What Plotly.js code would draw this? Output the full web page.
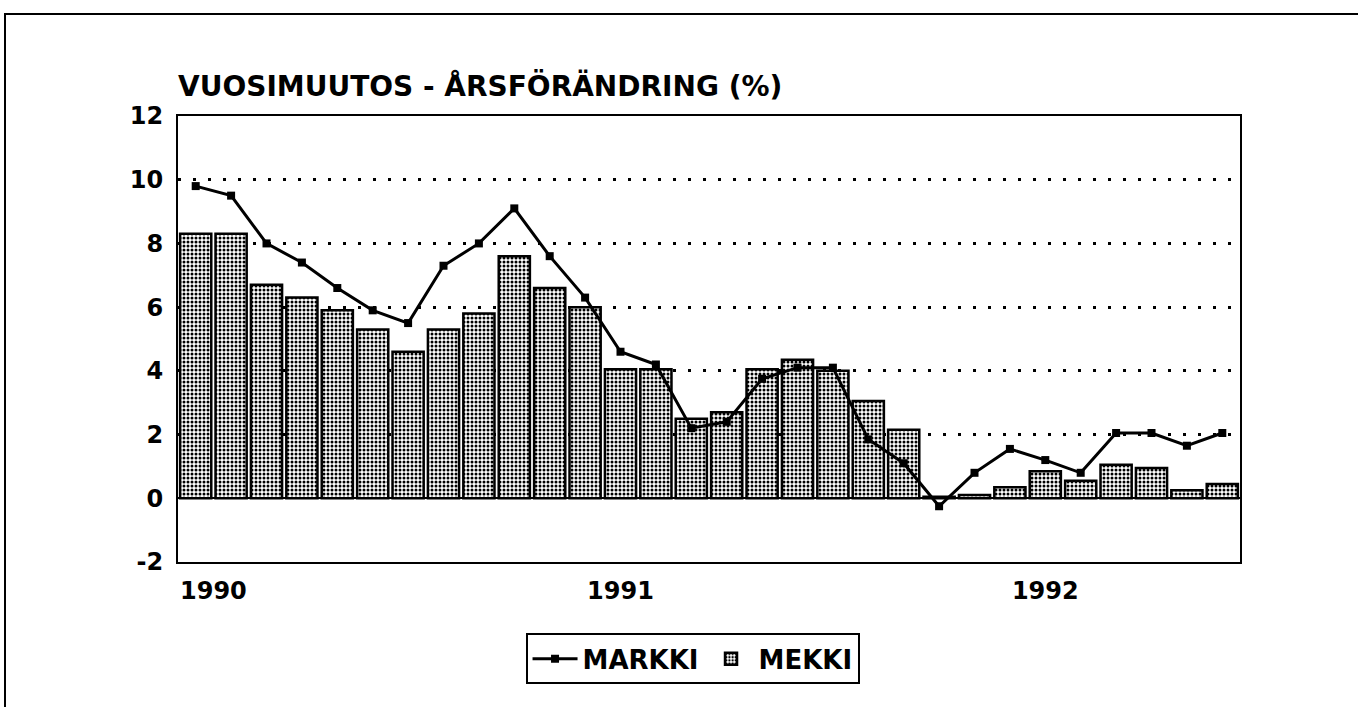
<!DOCTYPE html>
<html>
<head>
<meta charset="utf-8">
<script src="https://cdn.plot.ly/plotly-3.0.1.min.js"></script>
<style>
  html, body { margin: 0; padding: 0; background: #fff; }
  #frame { position: absolute; left: 4px; top: 13px; width: 1400px; height: 760px;
           border-left: 2px solid #000; border-top: 2px solid #000; }
  #chart { position: absolute; left: 0; top: 0; width: 1358px; height: 707px; }
</style>
</head>
<body>
<div id="frame"></div>
<div id="chart"></div>
<script>
// Months Jan 1990 .. Jun 1992 (index 0..29)
const months = Array.from({length: 30}, (_, i) => i);
const MARKKI = [9.8, 9.5, 8.0, 7.4, 6.6, 5.9, 5.5, 7.3, 8.0, 9.1, 7.6, 6.3,
                4.6, 4.2, 2.2, 2.4, 3.75, 4.1, 4.1, 1.85, 1.1, -0.25, 0.8, 1.55,
                1.2, 0.8, 2.05, 2.05, 1.65, 2.05];
const MEKKI = [8.3, 8.3, 6.7, 6.3, 5.9, 5.3, 4.6, 5.3, 5.8, 7.6, 6.6, 6.0,
               4.05, 4.05, 2.5, 2.7, 4.05, 4.35, 4.0, 3.05, 2.15, 0.05, 0.1, 0.35,
               0.85, 0.55, 1.05, 0.95, 0.25, 0.45];
const yearLabels = ['1990', '1991', '1992'];
const yearTickPos = [0.5, 12, 24];
const yTicks = [-2, 0, 2, 4, 6, 8, 10, 12];
const yTickLabels = ['-2', '0', '2', '4', '6', '8', '10', '12'];

const font = 'DejaVu Sans, Liberation Sans, Arial, sans-serif';

const traces = [
  {
    type: 'scatter', mode: 'lines+markers', name: 'MARKKI',
    x: months, y: MARKKI,
    line: {color: '#000', width: 3},
    marker: {symbol: 'square', size: 8, color: '#000'}
  },
  {
    type: 'bar', name: 'MEKKI',
    x: months, y: MEKKI,
    marker: {
      color: '#fff',
      line: {color: '#000', width: 2.5},
      pattern: {shape: '.', fgcolor: '#000', bgcolor: '#fff', size: 4, solidity: 0.45}
    }
  }
];

const layout = {
  width: 1358, height: 707,
  paper_bgcolor: 'rgba(0,0,0,0)', plot_bgcolor: '#fff',
  margin: {l: 178, r: 118, t: 116, b: 145},
  font: {family: font, color: '#000', size: 24, weight: 'bold'},
  showlegend: true,
  bargap: 0.12,
  title: {
    text: 'VUOSIMUUTOS - ÅRSFÖRÄNDRING (%)',
    font: {family: font, size: 28, weight: 'bold', color: '#000'},
    x: 0, xref: 'paper', xanchor: 'left',
    y: 1 - 86 / 707, yref: 'container', yanchor: 'middle'
  },
  xaxis: {
    range: [-0.5, 29.5],
    tickvals: yearTickPos, ticktext: yearLabels,
    ticks: '', showgrid: false, zeroline: false,
    showline: true, linecolor: '#000', linewidth: 2, mirror: true,
    tickfont: {family: font, size: 24, weight: 'bold'},
    ticklabelstandoff: 6
  },
  yaxis: {
    range: [-2, 12], tickvals: yTicks, ticktext: yTickLabels,
    ticks: '', showline: true, linecolor: '#000', linewidth: 2, mirror: true,
    showgrid: true, gridcolor: '#000', gridwidth: 3, griddash: '3px,12px',
    zeroline: true, zerolinecolor: '#000', zerolinewidth: 2,
    tickfont: {family: font, size: 24, weight: 'bold'},
    ticklabelstandoff: 8
  },
  legend: {
    orientation: 'h', x: 0.4845, xanchor: 'center', y: -0.217, yanchor: 'middle',
    bordercolor: '#000', borderwidth: 2, bgcolor: '#fff',
    font: {family: font, size: 26, weight: 'bold', color: '#000'},
    traceorder: 'normal', itemwidth: 45
  }
};

Plotly.newPlot('chart', traces, layout, {displayModeBar: false, staticPlot: true});
</script>
</body>
</html>
